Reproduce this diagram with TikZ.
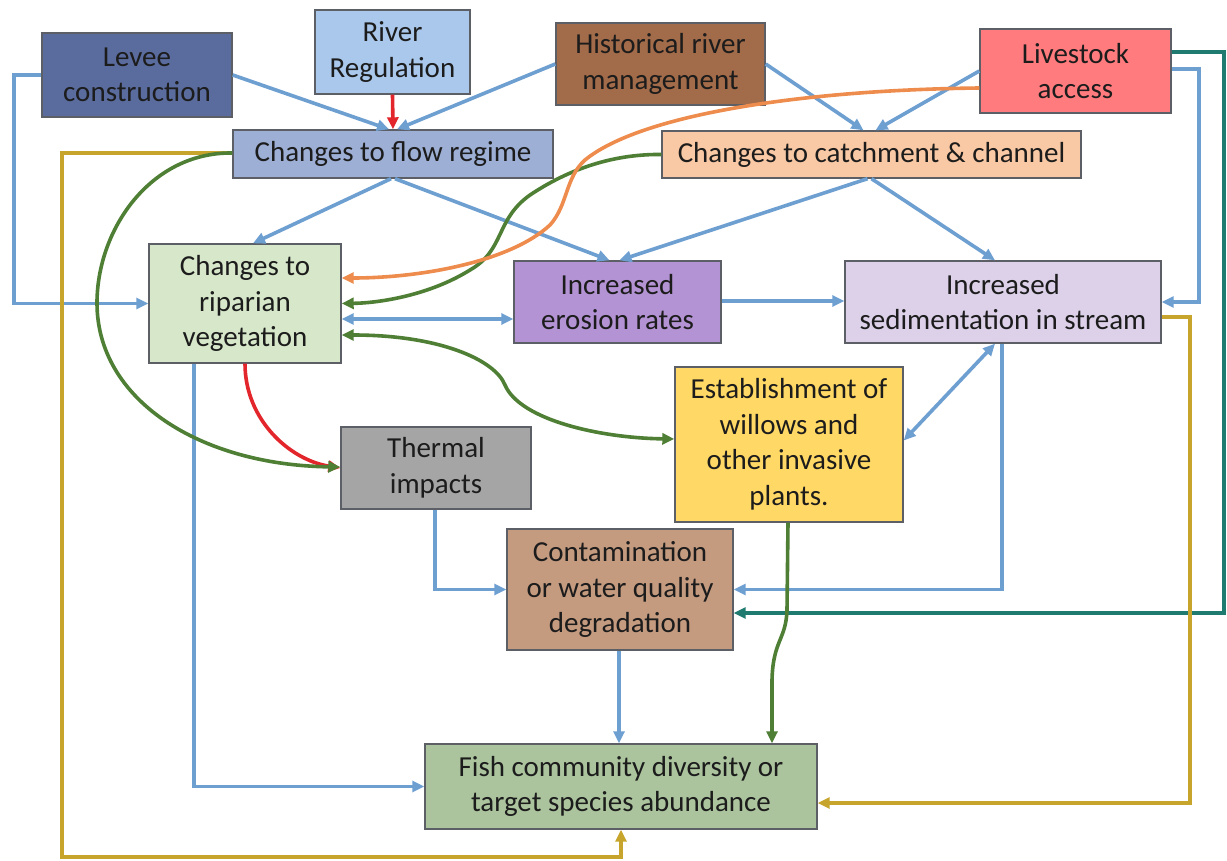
\documentclass[tikz,border=0pt]{standalone}
\usepackage{fontspec}
\setmainfont{Carlito}
\usetikzlibrary{arrows.meta}
\definecolor{bluec}{HTML}{6E9FD1}
\definecolor{redc}{HTML}{E3262B}
\definecolor{greenc}{HTML}{4F7F35}
\definecolor{orangec}{HTML}{EE8C4E}
\definecolor{yellowc}{HTML}{C7A52D}
\definecolor{tealc}{HTML}{1F7A6F}
\definecolor{boxline}{HTML}{5C5F66}
\definecolor{textc}{HTML}{1C1C1C}
\definecolor{fLevee}{HTML}{5A6C9E}
\definecolor{fRiver}{HTML}{A9C8EB}
\definecolor{fHist}{HTML}{A26B49}
\definecolor{fLive}{HTML}{FF7B7E}
\definecolor{fFlow}{HTML}{9DAFD5}
\definecolor{fCatch}{HTML}{F9C8A4}
\definecolor{fRipar}{HTML}{D7E8CA}
\definecolor{fEros}{HTML}{B393D3}
\definecolor{fSed}{HTML}{DCD1E9}
\definecolor{fWill}{HTML}{FFD865}
\definecolor{fTherm}{HTML}{A5A5A5}
\definecolor{fCont}{HTML}{C59B80}
\definecolor{fFish}{HTML}{ABC49E}
\begin{document}
\begin{tikzpicture}[x=1pt,y=-1pt,
  box/.style={draw=boxline, line width=1.4pt, align=center, inner sep=0pt,
    font=\fontsize{29}{35.5}\selectfont, text=textc},
  tip/.style={-{Triangle[length=12pt,width=11pt]}},
  dtip/.style={{Triangle[length=12pt,width=11pt]}-{Triangle[length=12pt,width=11pt]}},
  bl/.style={draw=bluec, line width=3.6pt},
  rd/.style={draw=redc, line width=3.6pt},
  gr/.style={draw=greenc, line width=3.6pt},
  orl/.style={draw=orangec, line width=3.6pt},
  yl/.style={draw=yellowc, line width=3.8pt},
  tl/.style={draw=tealc, line width=3.6pt}]
\useasboundingbox (0,0) rectangle (1227,861);
\fill[white] (0,0) rectangle (1227,861);

% nodes
\node[box, fill=fLevee, minimum width=190pt, minimum height=84pt] (levee) at (137,75) {Levee\\construction};
\node[box, fill=fRiver, minimum width=155pt, minimum height=84pt] (river) at (392.5,52) {River\\Regulation};
\node[box, fill=fHist, minimum width=209pt, minimum height=82pt] (hist) at (660.5,64) {Historical river\\management};
\node[box, fill=fLive, minimum width=191pt, minimum height=84pt] (live) at (1075.5,71) {Livestock\\access};
\node[box, fill=fFlow, minimum width=320pt, minimum height=48pt] (flow) at (393,154) {Changes to flow regime};
\node[box, fill=fCatch, minimum width=419pt, minimum height=47pt] (catch) at (871.5,154.5) {Changes to catchment \& channel};
\node[box, fill=fRipar, minimum width=192pt, minimum height=119pt] (ripar) at (245,303.5) {Changes to\\riparian\\vegetation};
\node[box, fill=fEros, minimum width=207pt, minimum height=82pt] (eros) at (617.5,302) {Increased\\erosion rates};
\node[box, fill=fSed, minimum width=316pt, minimum height=82pt] (sed) at (1003,302) {Increased\\sedimentation in stream};
\node[box, fill=fWill, minimum width=228pt, minimum height=155pt] (will) at (789,444.5) {Establishment of\\willows and\\other invasive\\plants.};
\node[box, fill=fTherm, minimum width=190pt, minimum height=82pt] (therm) at (436,468) {Thermal\\impacts};
\node[box, fill=fCont, minimum width=226pt, minimum height=121pt] (cont) at (620,589.5) {Contamination\\or water quality\\degradation};
\node[box, fill=fFish, minimum width=392pt, minimum height=85pt] (fish) at (621,786.5) {Fish community diversity or\\target species abundance};

% blue connectors
\draw[bl,tip] (levee.west) -- (14,75) |- (ripar.west);
\draw[bl,tip] (levee.east) -- ([xshift=-4pt]flow.north);
\draw[bl,tip] (hist.west) -- ([xshift=4pt]flow.north);
\draw[bl,tip] ([xshift=-2pt]flow.south) -- ([xshift=8pt]ripar.north);
\draw[bl,tip] ([xshift=2pt]flow.south) -- ([xshift=-8pt]eros.north);
\draw[bl,tip] (hist.east) -- ([xshift=-8pt]catch.north);
\draw[bl,tip] (live.west) -- ([xshift=4pt]catch.north);
\draw[bl,tip] ([xshift=-4pt]catch.south) -- ([xshift=2pt]eros.north);
\draw[bl,tip] (catch.south) -- ([xshift=-8pt]sed.north);
\draw[bl,tip] ([yshift=2pt]live.east) -- (1199,69) |- (sed.east);
\draw[bl,dtip] ([yshift=-15.5pt]ripar.east) -- ([yshift=-15.5pt]ripar.east -| eros.west);
\draw[bl,tip] ([yshift=1pt]eros.east) -- ([yshift=1pt]eros.east -| sed.west);
\draw[bl,dtip] ([yshift=4pt]will.east) -- ([xshift=-8pt]sed.south);
\draw[bl,tip] ([xshift=-1pt]sed.south) |- (cont.east);
\draw[bl,tip] ([xshift=-1pt]therm.south) |- (cont.west);
\draw[bl,tip] ([xshift=-51pt]ripar.south) |- (fish.west);
\draw[bl,tip] ([xshift=-1pt]cont.south) -- ([xshift=-1pt]cont.south |- fish.north);

% red
\draw[rd,tip] (river.south) -- (flow.north);
\draw[rd,tip] (ripar.south) .. controls (245,420) and (290,460) .. (therm.west);

% teal
\draw[tl,tip] ([yshift=19pt]live.east) -- (1224,52) |- ([yshift=-23.5pt]cont.east);

% yellow
\draw[yl,tip] ([yshift=1pt]flow.west) -- (62,153) -- (62,857) -| (fish.south);
\draw[yl,tip] ([yshift=-15pt]sed.east) -- (1190,317) |- ([yshift=-16.5pt]fish.east);

% green
\draw[gr,tip] ([yshift=1pt]flow.west) .. controls (150,152) and (97,230) .. (97,303)
  .. controls (97,400) and (200,465) .. ([yshift=1pt]therm.west);
\draw[gr,tip] (catch.west) .. controls (620,154) and (575,165) .. (530,195)
  .. controls (495,220) and (505,250) .. (470,270)
  .. controls (430,295) and (380,303) .. (ripar.east);
\draw[gr,dtip] ([yshift=-31.5pt]ripar.east) .. controls (440,335) and (495,360) .. (505,385)
  .. controls (520,420) and (600,438) .. ([yshift=5.5pt]will.west);
\draw[gr,tip] ([xshift=-1pt]will.south) -- (787,610) .. controls (786,640) and (773,640) .. (772,680)
  -- ([xshift=151pt]fish.north);

% orange
\draw[orl,tip] ([yshift=-17pt]live.west) .. controls (800,90) and (640,115) .. (585,160)
  .. controls (565,178) and (568,205) .. (550,225)
  .. controls (510,262) and (420,278) .. ([yshift=25.5pt]ripar.east);
\end{tikzpicture}
\end{document}
